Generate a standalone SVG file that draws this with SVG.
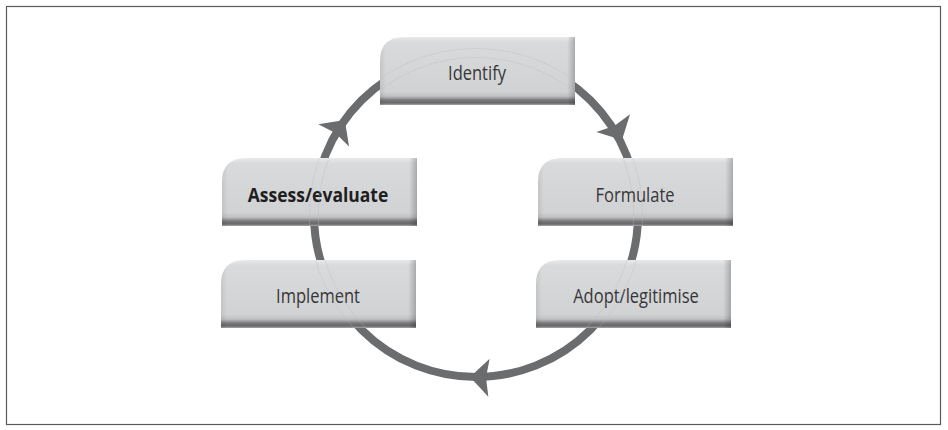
<svg xmlns="http://www.w3.org/2000/svg" width="948" height="430" viewBox="0 0 948 430">
  <style>
    .frame { fill: #ffffff; stroke: #5a5a5a; stroke-width: 1.2; }
    .ring { fill: none; stroke: #6b6c6e; stroke-width: 8; }
    .ghost { fill: none; stroke: #b9babb; stroke-width: 0.7; stroke-dasharray: 1.2 1.2; }
    .head { fill: #6b6c6e; }
    .box { fill: url(#boxFill); }
    .edge { fill: url(#boxEdge); }
    .label { font-family: "Open Sans", "Noto Sans", "Liberation Sans", sans-serif; font-size: 16.5px; fill: #363636; text-anchor: middle; }
    .bold { font-weight: bold; font-size: 17.5px; fill: #1e1e1e; }
  </style>
  <defs>
    <linearGradient id="boxFill" x1="0" y1="0" x2="0" y2="1">
      <stop offset="0" stop-color="#e8e9ea"/>
      <stop offset="0.08" stop-color="#d9dadc"/>
      <stop offset="0.8" stop-color="#d1d2d4"/>
      <stop offset="0.87" stop-color="#c0c1c3"/>
      <stop offset="0.93" stop-color="#77777a"/>
      <stop offset="0.97" stop-color="#68686a"/>
      <stop offset="1" stop-color="#a9a9ab"/>
    </linearGradient>
    <linearGradient id="boxEdge" x1="0" y1="0" x2="1" y2="0">
      <stop offset="0" stop-color="#000" stop-opacity="0.08"/>
      <stop offset="0.03" stop-color="#000" stop-opacity="0"/>
      <stop offset="0.96" stop-color="#000" stop-opacity="0"/>
      <stop offset="1" stop-color="#000" stop-opacity="0.22"/>
    </linearGradient>
    <!-- card outline: rounded upper-left corner, square elsewhere -->
    <path id="card" d="M0,24 Q0,0 24,0 L195,0 L195,68 L0,68 Z"/>
    <!-- dart-shaped arrowhead, tip at origin pointing along +x -->
    <path id="dart" d="M0,0 L-19,-19 L-16,0 L-19,19 Z"/>
    <clipPath id="cards">
      <use href="#card" transform="translate(380,37)"/>
      <use href="#card" transform="translate(222,158)"/>
      <use href="#card" transform="translate(538,158)"/>
      <use href="#card" transform="translate(221,260)"/>
      <use href="#card" transform="translate(536,260)"/>
    </clipPath>
  </defs>

  <rect class="frame" x="6.5" y="6.5" width="934" height="418"/>

  <g id="connectors">
    <circle class="ring" cx="476" cy="215" r="162"/>
    <use class="head" href="#dart" transform="translate(622,140) rotate(62.4)"/>
    <use class="head" href="#dart" transform="translate(470,377) rotate(182)"/>
    <use class="head" href="#dart" transform="translate(344.8,120) rotate(-54.1)"/>
  </g>

  <g id="node-identify">
    <use class="box" href="#card" transform="translate(380,37)"/>
    <use class="edge" href="#card" transform="translate(380,37)"/>
    <text class="label" transform="translate(477,80) scale(1,1.2)">Identify</text>
  </g>
  <g id="node-assess">
    <use class="box" href="#card" transform="translate(222,158)"/>
    <use class="edge" href="#card" transform="translate(222,158)"/>
    <text class="label bold" transform="translate(318,202) scale(1,1.15)">Assess/evaluate</text>
  </g>
  <g id="node-formulate">
    <use class="box" href="#card" transform="translate(538,158)"/>
    <use class="edge" href="#card" transform="translate(538,158)"/>
    <text class="label" transform="translate(635,202) scale(1,1.2)">Formulate</text>
  </g>
  <g id="node-implement">
    <use class="box" href="#card" transform="translate(221,260)"/>
    <use class="edge" href="#card" transform="translate(221,260)"/>
    <text class="label" transform="translate(318,303) scale(1,1.2)">Implement</text>
  </g>
  <g id="node-adopt">
    <use class="box" href="#card" transform="translate(536,260)"/>
    <use class="edge" href="#card" transform="translate(536,260)"/>
    <text class="label" transform="translate(636,303) scale(1,1.2)">Adopt/legitimise</text>
  </g>

  <!-- faint trace of the ring seen through the cards -->
  <g clip-path="url(#cards)">
    <circle class="ghost" cx="476" cy="215" r="157.5"/>
    <circle class="ghost" cx="476" cy="215" r="166.5"/>
  </g>
</svg>
